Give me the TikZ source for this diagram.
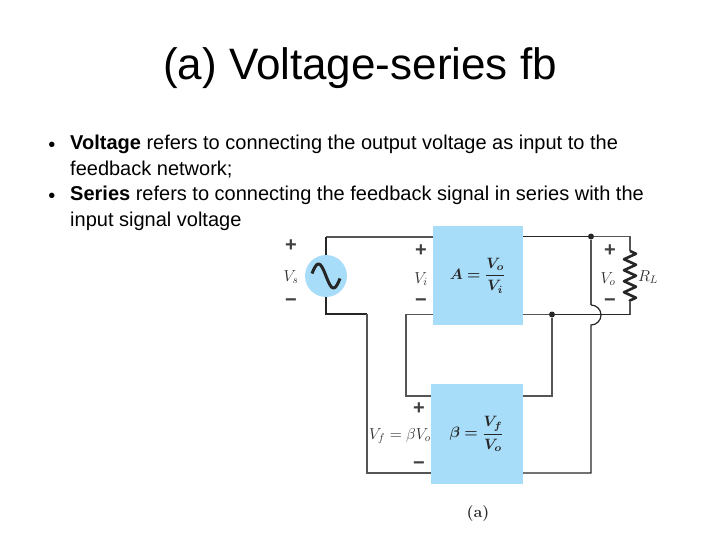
\documentclass[tikz,border=0pt]{standalone}
\usepackage{fontspec}
\setmainfont{Liberation Sans}
\usepackage{amsmath}
\usepackage{bm}
\usetikzlibrary{decorations.pathmorphing}
\definecolor{blockblue}{HTML}{A8DDF9}
\definecolor{wiregray}{HTML}{555555}
\definecolor{labelgray}{HTML}{2C2C2C}
\tikzset{
    block/.style={fill=blockblue,minimum width=#1,inner sep=0pt,text=black!85},
    wire/.style={draw=wiregray,line width=1.5pt},
    blackwire/.style={draw=black!85,line width=1.2pt},
    dot/.style={circle,fill=black!85,inner sep=0pt,minimum size=6pt},
    sign/.style={inner sep=0pt,font=\fontsize{20}{20}\selectfont\bfseries,text=black!75},
    lab/.style={inner sep=0pt,text=labelgray,font=\fontsize{14.4}{16}\selectfont,scale=1.1,transform shape},
    bodytext/.style={inner sep=0pt,anchor=north west,align=left,font=\fontsize{20}{25.6}\selectfont}
}
\begin{document}
\begin{tikzpicture}[x=1pt,y=-1pt]
    \useasboundingbox (0,0) rectangle (720,540);
    \node[inner sep=0pt,font=\fontsize{44}{44}\selectfont] (title) at (360,68) {(a) Voltage-series fb};

    \node[inner sep=0pt,font=\fontsize{20}{20}\selectfont] (b1) at (52,147) {\textbullet};
    \node[inner sep=0pt,font=\fontsize{20}{20}\selectfont] (b2) at (52,198) {\textbullet};
    \node[bodytext] (t1) at (70,135) {\textbf{Voltage} refers to connecting the output voltage as input to the\\feedback network;};
    \node[bodytext] (t2) at (70,186) {\textbf{Series} refers to connecting the feedback signal in series with the\\input signal voltage};

    \node[block=90pt,minimum height=99pt] (A) at (478,275.5) {\scalebox{1.5}{$\bm{A=\dfrac{V_o}{V_i}}$}};
    \node[block=92pt,minimum height=100pt] (B) at (477,434) {\scalebox{1.5}{$\bm{\beta=\dfrac{V_f}{V_o}}$}};
    \node[circle,fill=blockblue,minimum size=42pt,inner sep=0pt] (S) at (326,276) {};

    \coordinate (Sdown) at (367,314);
    \coordinate (Sin) at (367,473);
    \coordinate (Ain) at (433,237);
    \coordinate (Stop) at (326,237);
    \coordinate (Aret) at (433,314.5);
    \coordinate (Bret) at (406,314.5);
    \coordinate (Bup) at (406,396);
    \coordinate (Bin) at (431,396);
    \coordinate (Bneg) at (431,473);
    \coordinate (Aout) at (523,236.5);
    \coordinate (Abot) at (523,314.5);
    \coordinate (Rtop) at (630,236.5);
    \coordinate (Rbot) at (630,314.5);
    \coordinate (Rz1) at (630,251);
    \coordinate (Rz2) at (630,301);
    \coordinate (Jump1) at (591,305);
    \coordinate (Fdown) at (591,473);
    \coordinate (Bout) at (523,473);
    \coordinate (Fup) at (552,396);
    \coordinate (Bfb) at (523,396);
    \node[dot] (D1) at (591,236.5) {};
    \node[dot] (D2) at (552,314.5) {};

    % source loop
    \draw[wire] (Stop) -- (Ain);
    \draw[blackwire,line width=1.5pt] (S) -- (Stop);
    \draw[blackwire] (S) |- (Sdown);
    \draw[wire] (Sdown) -- (Sin) -- (Bneg);
    \draw[wire] (Aret) -- (Bret) -- (Bup) -- (Bin);
    \draw[line width=3pt,black!85,shift={(S.center)}] plot[smooth,domain=-14:14,samples=29] (\x,{12*sin(12*\x)});

    % output side
    \draw[blackwire,line width=1.5pt] (Aout) -- (D1);
    \draw[wire] (D1) -- (Rtop) -- (Rz1);
    \draw[line width=2.6pt,black!85,line join=round,decorate,decoration={zigzag,segment length=11pt,amplitude=6pt}] (Rz1) -- (Rz2);
    \draw[wire] (Rz2) -- (Rbot);
    \draw[wire] (Abot) -- (D2);
    \draw[blackwire] (D2) -- (Rbot);
    \draw[wire] (D2) -- (Fup) -- (Bfb);
    \draw[wire,line width=1.1pt] (D1) -- (Jump1);
    \draw[blackwire] (Jump1) arc[start angle=-90,end angle=90,radius=10pt,y radius=-10pt] -- (Fdown) -- (Bout);

    % labels
    \node[sign] (Sp) at (291,246) {+};
    \node[sign] (Sm) at (291,303) {\textminus};
    \node[lab] (Vs) at (291,277) {$V_s$};
    \node[sign] (Ap) at (421,251) {+};
    \node[sign] (Am) at (421,303) {\textminus};
    \node[lab] (Vi) at (421,279) {$V_i$};
    \node[sign] (Op) at (610,251) {+};
    \node[sign] (Om) at (610,303) {\textminus};
    \node[lab] (Vo) at (608,279) {$V_o$};
    \node[lab] (RL) at (648,277) {$R_L$};
    \node[sign] (Bp) at (419,409) {+};
    \node[sign] (Bm) at (419,466) {\textminus};
    \node[lab,anchor=east] (Vf) at (431,436) {$V_f=\beta V_o$};
    \node[lab] (cap) at (478,514) {\usefont{OT1}{cmr}{bx}{n}(a)};
\end{tikzpicture}
\end{document}
